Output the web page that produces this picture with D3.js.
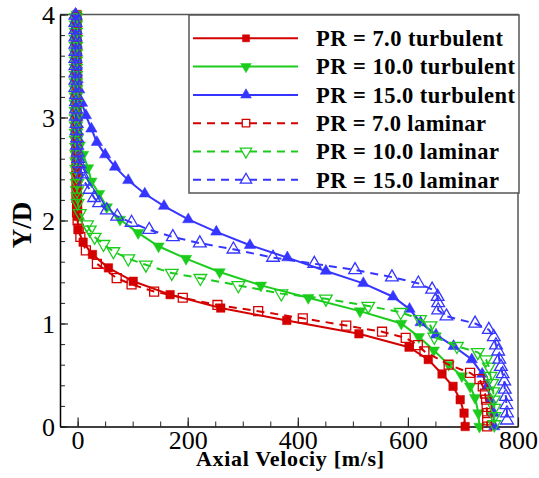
<!DOCTYPE html>
<html>
<head>
<meta charset="utf-8">
<script src="https://cdn.jsdelivr.net/npm/d3@7"></script>
<style>
  body { margin: 0; background: #fff; }
  svg { display: block; font-family: "Liberation Serif", "Times New Roman", serif; }
</style>
</head>
<body>
<svg id="chart" width="539" height="478"></svg>
<script>
// velocity [m/s], Y/D pairs
var redTurb = [
  [-1, 4.0], [-1, 3.93], [-1, 3.86], [-1, 3.79], [-1, 3.72], [-1, 3.65], [-1, 3.58], [-1, 3.51],
  [-1, 3.44], [-1, 3.37], [-1, 3.3], [-1, 3.23], [-1, 3.16], [-1, 3.09], [-1, 3.02], [-1, 2.95],
  [-1, 2.88], [-1, 2.81], [-1, 2.74], [-1, 2.67], [-1, 2.6], [-1, 2.53], [-1, 2.46], [-1, 2.39],
  [-1, 2.32], [-1, 2.25], [-1, 2.18], [-1, 2.11], [0, 2.04], [1, 1.91], [10, 1.79], [27, 1.67],
  [56, 1.54], [101, 1.41], [168, 1.28], [260, 1.15], [380, 1.03], [511, 0.9], [602, 0.77],
  [637, 0.65], [662, 0.51], [682, 0.39], [695, 0.26], [702, 0.13], [704, 0]
];
var greenTurb = [
  [-2, 4.0], [-2, 3.93], [-2, 3.86], [-2, 3.79], [-2, 3.72], [-2, 3.65], [-2, 3.58], [-2, 3.51],
  [-2, 3.44], [-2, 3.37], [-2, 3.3], [-2, 3.23], [-2, 3.16], [-2, 3.09], [-1, 3.02], [-1, 2.95],
  [0, 2.88], [1, 2.81], [4, 2.73], [10, 2.64], [19, 2.51], [25, 2.38], [39, 2.26], [53, 2.13],
  [77, 2.01], [110, 1.88], [147, 1.75], [197, 1.63], [258, 1.5], [333, 1.37], [419, 1.25],
  [513, 1.12], [588, 1.0], [620, 0.87], [647, 0.74], [674, 0.6], [698, 0.49], [713, 0.39],
  [722, 0.28], [728, 0.13], [730, 0]
];
var blueTurb = [
  [-3, 4.0], [-3, 3.93], [-3, 3.86], [-3, 3.79], [-2, 3.72], [-2, 3.65], [-2, 3.58], [-1, 3.51],
  [-1, 3.44], [0, 3.37], [3, 3.27], [8, 3.14], [15, 3.02], [25, 2.89], [35, 2.76], [50, 2.64],
  [68, 2.52], [92, 2.39], [122, 2.26], [157, 2.14], [201, 2.01], [252, 1.89], [313, 1.76],
  [381, 1.64], [451, 1.51], [519, 1.39], [573, 1.26], [603, 1.14], [623, 1.01], [651, 0.89],
  [683, 0.78], [716, 0.65], [735, 0.51], [744, 0.39], [750, 0.26], [756, 0.13], [757, 0]
];
var redLam = [
  [-2, 3.97], [-2, 3.9], [-2, 3.83], [-2, 3.76], [-2, 3.69], [-2, 3.62], [-2, 3.55], [-2, 3.48],
  [-2, 3.41], [-2, 3.34], [-2, 3.27], [-2, 3.2], [-2, 3.13], [-2, 3.06], [-2, 2.99], [-2, 2.92],
  [-2, 2.85], [-2, 2.78], [-2, 2.71], [-2, 2.64], [-2, 2.57], [-2, 2.5], [-2, 2.43], [-2, 2.36],
  [-2, 2.29], [-2, 2.22], [-1, 2.15], [-1, 2.08], [0, 2.0], [2, 1.92], [5, 1.84], [15, 1.71],
  [35, 1.58], [71, 1.44], [98, 1.38], [139, 1.31], [191, 1.25], [254, 1.18], [328, 1.12],
  [409, 1.05], [488, 0.98], [553, 0.92], [596, 0.86], [618, 0.79], [630, 0.73], [674, 0.6],
  [713, 0.52], [730, 0.46], [736, 0.39], [740, 0.32], [742, 0.26], [743, 0.19], [744, 0.13],
  [744, 0.06], [744, 0]
];
var greenLam = [
  [-3, 3.97], [-3, 3.9], [-3, 3.83], [-3, 3.76], [-3, 3.69], [-3, 3.62], [-3, 3.55], [-3, 3.48],
  [-3, 3.41], [-3, 3.34], [-3, 3.27], [-3, 3.2], [-3, 3.13], [-3, 3.06], [-3, 2.99], [-3, 2.92],
  [-3, 2.85], [-3, 2.78], [-2, 2.71], [-2, 2.64], [-2, 2.57], [-2, 2.5], [-2, 2.43], [-1, 2.36],
  [-1, 2.29], [0, 2.23], [0, 2.17], [4, 2.07], [17, 1.96], [22, 1.91], [31, 1.84], [47, 1.77],
  [65, 1.7], [92, 1.63], [124, 1.57], [171, 1.49], [223, 1.44], [292, 1.37], [370, 1.29],
  [451, 1.24], [528, 1.17], [587, 1.11], [622, 1.04], [641, 0.98], [648, 0.87], [689, 0.78],
  [727, 0.72], [742, 0.65], [747, 0.58], [750, 0.49], [753, 0.42], [755, 0.34], [756, 0.26],
  [757, 0.18], [757, 0.1], [757, 0.02]
];
var blueLam = [
  [-4, 3.99], [-4, 3.92], [-4, 3.85], [-4, 3.78], [-4, 3.71], [-4, 3.64], [-4, 3.57], [-4, 3.5],
  [-4, 3.43], [-4, 3.36], [-4, 3.29], [-3, 3.22], [-3, 3.15], [-3, 3.08], [-3, 3.01], [-2, 2.94],
  [-2, 2.87], [-1, 2.8], [-1, 2.73], [0, 2.66], [1, 2.6], [3, 2.55], [5, 2.5], [8, 2.45],
  [12, 2.38], [22, 2.3], [30, 2.22], [39, 2.17], [53, 2.1], [72, 2.04], [98, 1.98], [130, 1.91],
  [173, 1.84], [222, 1.78], [283, 1.72], [355, 1.64], [430, 1.58], [504, 1.52], [571, 1.45],
  [619, 1.39], [644, 1.33], [654, 1.26], [655, 1.2], [655, 1.13], [670, 1.07], [722, 1.0],
  [747, 0.94], [756, 0.87], [760, 0.79], [764, 0.73], [766, 0.65], [769, 0.58], [772, 0.51],
  [775, 0.44], [776, 0.36], [778, 0.29], [779, 0.21], [780, 0.13], [780, 0.06]
];

var seriesNames = [
  "PR = 7.0 turbulent", "PR = 10.0 turbulent", "PR = 15.0 turbulent",
  "PR = 7.0 laminar", "PR = 10.0 laminar", "PR = 15.0 laminar"
];
var seriesData = [redTurb, greenTurb, blueTurb, redLam, greenLam, blueLam];
var xMajor = [0, 200, 400, 600, 800];
var yMajor = [0, 1, 2, 3, 4];

var RED = "#d40000", GREEN = "#1ccc1c", BLUE = "#3535ff";
var styles = [
  { color: RED, dash: null, marker: "square", fill: true, textLen: 187 },
  { color: GREEN, dash: null, marker: "down", fill: true, textLen: 199 },
  { color: BLUE, dash: null, marker: "up", fill: true, textLen: 199 },
  { color: RED, dash: "8,6", marker: "square", fill: false, textLen: 170 },
  { color: GREEN, dash: "8,6", marker: "down", fill: false, textLen: 183 },
  { color: BLUE, dash: "8,6", marker: "up", fill: false, textLen: 183 }
];

var svg = d3.select("#chart");
var plotL = 60, plotR = 518, plotT = 14.5, plotB = 426.5;

var x = d3.scaleLinear().domain([-32, 800]).range([plotL, plotR]);
var y = d3.scaleLinear().domain([0, 4]).range([plotB, plotT]);

// frame top/right
svg.append("path")
  .attr("d", "M" + plotL + "," + plotT + "H" + plotR + "V" + plotB)
  .attr("fill", "none").attr("stroke", "#555").attr("stroke-width", 1.5);

// minor ticks
svg.append("g")
  .attr("transform", "translate(0," + plotB + ")")
  .call(d3.axisBottom(x).tickValues(d3.range(0, 801, 50)).tickSize(-5).tickFormat(""))
  .call(g => g.select(".domain").remove());
svg.append("g")
  .attr("transform", "translate(" + plotL + ",0)")
  .call(d3.axisLeft(y).tickValues(d3.range(0, 4.01, 0.2)).tickSize(-5).tickFormat(""))
  .call(g => g.select(".domain").remove());

// major axes
var xAxis = svg.append("g")
  .attr("transform", "translate(0," + plotB + ")")
  .call(d3.axisBottom(x).tickValues(xMajor).tickSizeInner(-9).tickSizeOuter(0).tickPadding(6).tickFormat(d3.format("d")));
var yAxis = svg.append("g")
  .attr("transform", "translate(" + plotL + ",0)")
  .call(d3.axisLeft(y).tickValues(yMajor).tickSizeInner(-8).tickSizeOuter(0).tickPadding(5).tickFormat(d3.format("d")));

[xAxis, yAxis].forEach(function(g) {
  g.selectAll("text").attr("font-family", "Liberation Serif, serif").attr("font-size", 26).attr("fill", "#000");
  g.select(".domain").attr("stroke-width", 1.5);
  g.selectAll(".tick line").attr("stroke-width", 1.2);
});
xAxis.selectAll("text").attr("dy", "0.62em");
yAxis.selectAll("text").attr("dy", "0.34em");
svg.selectAll("g .tick line").attr("stroke", "#222");

function markerPath(type, size) {
  if (type === "square") return d3.symbol(d3.symbolSquare, size)();
  return d3.symbol(d3.symbolTriangle, size)();
}
function markerSize(st) {
  if (st.marker === "square") return st.fill ? 72 : 80;
  return st.fill ? 56 : 70;
}

var line = d3.line().x(d => x(d[0])).y(d => y(d[1]));

var plot = svg.append("g");
seriesData.forEach(function(data, i) {
  var st = styles[i];
  var g = plot.append("g");
  g.append("path")
    .datum(data)
    .attr("d", line)
    .attr("fill", "none")
    .attr("stroke", st.color)
    .attr("stroke-width", 2)
    .attr("stroke-dasharray", st.dash);
  g.selectAll("path.m")
    .data(data)
    .enter()
    .append("path")
    .attr("class", "m")
    .attr("d", markerPath(st.marker, markerSize(st)))
    .attr("transform", function(d) {
      return "translate(" + x(d[0]) + "," + y(d[1]) + ")" + (st.marker === "down" ? " rotate(180)" : "");
    })
    .attr("fill", st.fill ? st.color : "none")
    .attr("stroke", st.color)
    .attr("stroke-width", st.fill ? 0.5 : 1.3);
});

// legend
var lg = svg.append("g");
lg.append("rect")
  .attr("x", 189).attr("y", 15).attr("width", 330).attr("height", 178)
  .attr("fill", "#fff").attr("stroke", "#555").attr("stroke-width", 1.5);
seriesNames.forEach(function(name, i) {
  var st = styles[i];
  var ry = 38.3 + i * 28.3;
  lg.append("line")
    .attr("x1", 193).attr("x2", 298).attr("y1", ry).attr("y2", ry)
    .attr("stroke", st.color).attr("stroke-width", 2)
    .attr("stroke-dasharray", st.dash);
  lg.append("path")
    .attr("d", markerPath(st.marker, st.fill ? 50 : 56))
    .attr("transform", "translate(246," + ry + ")" + (st.marker === "down" ? " rotate(180)" : ""))
    .attr("fill", st.fill ? st.color : "#fff")
    .attr("stroke", st.color)
    .attr("stroke-width", st.fill ? 0.5 : 1.3);
  lg.append("text")
    .attr("x", 316).attr("y", ry).attr("dy", "0.35em")
    .attr("font-family", "Liberation Serif, serif")
    .attr("font-size", 22.5).attr("font-weight", "bold")
    .attr("textLength", st.textLen)
    .attr("lengthAdjust", "spacing")
    .text(name);
});

// axis titles
svg.append("text")
  .attr("x", 290).attr("y", 466)
  .attr("text-anchor", "middle")
  .attr("font-family", "Liberation Serif, serif")
  .attr("font-size", 22).attr("font-weight", "bold")
  .attr("textLength", 188)
  .attr("lengthAdjust", "spacing")
  .text("Axial Velociy [m/s]");
svg.append("text")
  .attr("transform", "translate(31,225) rotate(-90)")
  .attr("text-anchor", "middle")
  .attr("font-family", "Liberation Serif, serif")
  .attr("font-size", 27).attr("font-weight", "bold")
  .text("Y/D");
</script>
</body>
</html>
